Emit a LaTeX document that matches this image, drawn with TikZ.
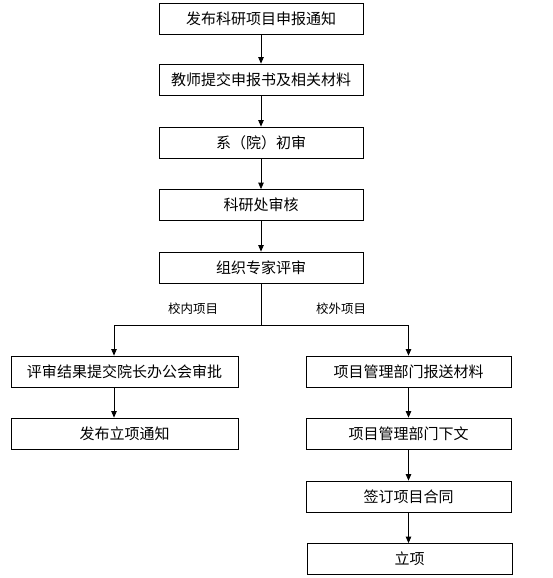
\documentclass[tikz,border=0pt]{standalone}
\usepackage{fontspec}
\newfontfamily\cjk{Noto Sans CJK SC}
\usetikzlibrary{positioning,arrows.meta}
\tikzstyle{stepbox}   = [draw=black, line width=0.8pt, minimum width=204pt, minimum height=31pt, inner sep=0pt, font=\cjk\fontsize{15pt}{17pt}\selectfont]
\tikzstyle{arrow}     = [line width=0.8pt,-{Triangle[length=6.5pt,width=5.5pt]}]
\tikzstyle{branch}    = [font=\cjk\fontsize{12.5pt}{14pt}\selectfont]
\begin{document}
\begin{tikzpicture}[x=1pt,y=-1pt]
		\useasboundingbox (0,0) rectangle (552,578);

		% main column
		\node[stepbox] (notice)  at (261,18.5)  {发布科研项目申报通知};
		\node[stepbox] (submit)  at (261,79.5)  {教师提交申报书及相关材料};
		\node[stepbox] (dept)    at (261,142.5) {系（院）初审};
		\node[stepbox] (office)  at (261,205)   {科研处审核};
		\node[stepbox] (expert)  at (261,267.5) {组织专家评审};

		\draw[arrow] (notice) -- (submit);
		\draw[arrow] (submit) -- (dept);
		\draw[arrow] (dept) -- (office);
		\draw[arrow] (office) -- (expert);

		% left branch
		\node[stepbox, minimum width=227pt] (approve) at (124.5,371.5) {评审结果提交院长办公会审批};
		\node[stepbox, minimum width=227pt] (publish) at (124.5,433.5) {发布立项通知};

		% right branch
		\node[stepbox, minimum width=205pt] (report)   at (408.5,371.5) {项目管理部门报送材料};
		\node[stepbox, minimum width=205pt] (document) at (408.5,433.5) {项目管理部门下文};
		\node[stepbox, minimum width=205pt] (contract) at (408.5,496.5) {签订项目合同};
		\node[stepbox, minimum width=205pt] (setup)    at (409.5,559)   {立项};

		\coordinate (split)  at (261,325);
		\coordinate (lsplit) at (114,325);
		\coordinate (rsplit) at (408.5,325);

		\draw[line width=0.8pt] (expert) -- (split);
		\draw[line width=0.8pt] (lsplit) -- (rsplit);
		\draw[arrow] (lsplit) -- (lsplit |- approve.north);
		\draw[arrow] (rsplit) -- (report);
		\draw[arrow] (approve.south -| lsplit) -- (publish.north -| lsplit);
		\draw[arrow] (report) -- (document);
		\draw[arrow] (document) -- (contract);
		\draw[arrow] (contract.south) -- (contract.south |- setup.north);

		\node[branch] (inner) at (193,309) {校内项目};
		\node[branch] (outer) at (341,309) {校外项目};
	\end{tikzpicture}
\end{document}
